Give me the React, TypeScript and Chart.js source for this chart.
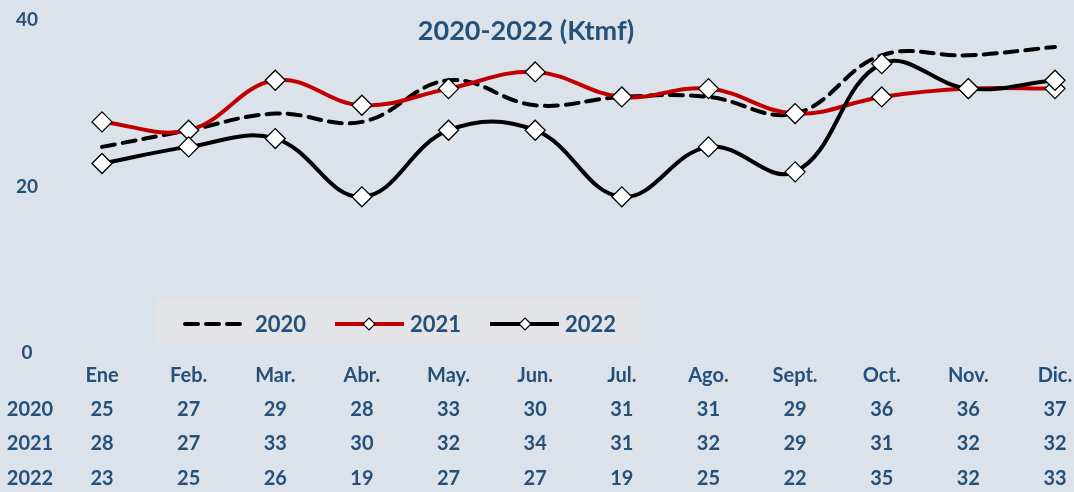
import React, { useEffect, useRef } from "react";
import { Chart, registerables } from "chart.js";

Chart.register(...registerables);

const months = ["Ene", "Feb.", "Mar.", "Abr.", "May.", "Jun.", "Jul.", "Ago.", "Sept.", "Oct.", "Nov.", "Dic."];
const seriesNames = ["2020", "2021", "2022"];
const s2020 = [25, 27, 29, 28, 33, 30, 31, 31, 29, 36, 36, 37];
const s2021 = [28, 27, 33, 30, 32, 34, 31, 32, 29, 31, 32, 32];
const s2022 = [23, 25, 26, 19, 27, 27, 19, 25, 22, 35, 32, 33];
const yTicks = [0, 20, 40];
const titleText = "2020-2022 (Ktmf)";

const BG = "#dce2ea";
const TEXT = "#24507a";
const FONT = "Lato, 'Open Sans', sans-serif";

const decorPlugin = {
  id: "decor",
  beforeDraw(chart: any) {
    const ctx = chart.ctx;
    ctx.save();
    ctx.fillStyle = BG;
    ctx.fillRect(0, 0, chart.width, chart.height);
    ctx.restore();
  },
  afterDraw(chart: any) {
    const ctx = chart.ctx;
    const xs = chart.scales.x;
    const ys = chart.scales.y;
    ctx.save();
    ctx.fillStyle = TEXT;
    ctx.textAlign = "center";
    ctx.textBaseline = "middle";

    // title
    ctx.font = `bold 27px ${FONT}`;
    ctx.fillText(titleText, 526, 31);

    // y ticks
    ctx.font = `bold 19px ${FONT}`;
    yTicks.forEach((t) => {
      ctx.fillText(String(t), 27, ys.getPixelForValue(t) - 2);
    });

    // month labels
    ctx.font = `bold 20px ${FONT}`;
    months.forEach((m, i) => {
      ctx.fillText(m, xs.getPixelForValue(i), 376);
    });

    // data table
    const rows = [s2020, s2021, s2022];
    const rowY = [410, 444, 479];
    ctx.font = `bold 20px ${FONT}`;
    rows.forEach((r, ri) => {
      ctx.fillText(seriesNames[ri], 30, rowY[ri]);
      r.forEach((v, i) => {
        ctx.fillText(String(v), xs.getPixelForValue(i), rowY[ri]);
      });
    });

    // legend box
    ctx.fillStyle = "#e3e4e7";
    ctx.fillRect(155, 298, 486, 47);
    const ly = 324;
    ctx.lineWidth = 4;
    // 2020 dashed
    ctx.strokeStyle = "#000";
    ctx.setLineDash([13, 8]);
    ctx.lineCap = "round";
    ctx.beginPath();
    ctx.moveTo(185, ly);
    ctx.lineTo(244, ly);
    ctx.stroke();
    ctx.setLineDash([]);
    // 2021 red
    ctx.strokeStyle = "#c00000";
    ctx.lineCap = "butt";
    ctx.beginPath();
    ctx.moveTo(335, ly);
    ctx.lineTo(404, ly);
    ctx.stroke();
    // 2022 black
    ctx.strokeStyle = "#000";
    ctx.beginPath();
    ctx.moveTo(490, ly);
    ctx.lineTo(559, ly);
    ctx.stroke();
    const diamond = (cx: number, cy: number, r: number) => {
      ctx.beginPath();
      ctx.moveTo(cx, cy - r);
      ctx.lineTo(cx + r, cy);
      ctx.lineTo(cx, cy + r);
      ctx.lineTo(cx - r, cy);
      ctx.closePath();
      ctx.fillStyle = "#fff";
      ctx.fill();
      ctx.lineWidth = 1.2;
      ctx.strokeStyle = "#000";
      ctx.stroke();
    };
    diamond(369, ly, 6);
    diamond(525, ly, 6);
    ctx.fillStyle = TEXT;
    ctx.font = `bold 22px ${FONT}`;
    ctx.textAlign = "left";
    ctx.fillText(seriesNames[0], 255, ly + 1);
    ctx.fillText(seriesNames[1], 410, ly + 1);
    ctx.fillText(seriesNames[2], 565, ly + 1);
    ctx.restore();
  },
};

export default function App() {
  const ref = useRef<HTMLCanvasElement>(null);
  useEffect(() => {
    if (!ref.current) return;
    const marker = {
      pointStyle: "rectRot" as const,
      pointRadius: 10,
      pointBackgroundColor: "#ffffff",
      pointBorderColor: "#000000",
      pointBorderWidth: 1.3,
    };
    const chart = new Chart(ref.current, {
      type: "line",
      data: {
        labels: months,
        datasets: [
          {
            label: seriesNames[0],
            data: s2020,
            borderColor: "#000",
            borderWidth: 4,
            borderDash: [13, 8],
            borderCapStyle: "round",
            pointRadius: 0,
            tension: 0.4,
            order: 3,
            clip: false,
          },
          {
            label: seriesNames[1],
            data: s2021,
            borderColor: "#c00000",
            borderWidth: 4,
            tension: 0.4,
            order: 2,
            clip: false,
            ...marker,
          },
          {
            label: seriesNames[2],
            data: s2022,
            borderColor: "#000",
            borderWidth: 4,
            tension: 0.4,
            order: 1,
            clip: false,
            ...marker,
          },
        ],
      },
      options: {
        responsive: false,
        animation: false,
        layout: { padding: { left: 102, right: 19, top: 22, bottom: 137 } },
        plugins: { legend: { display: false }, tooltip: { enabled: false }, title: { display: false } },
        scales: {
          x: { type: "category", display: false, offset: false },
          y: { display: false, min: 0, max: 40 },
        },
      },
      plugins: [decorPlugin],
    });
    return () => chart.destroy();
  }, []);
  return (
    <canvas
      ref={ref}
      width={1074}
      height={492}
      style={{ position: "fixed", left: 0, top: 0, width: 1074, height: 492, display: "block" }}
    />
  );
}
